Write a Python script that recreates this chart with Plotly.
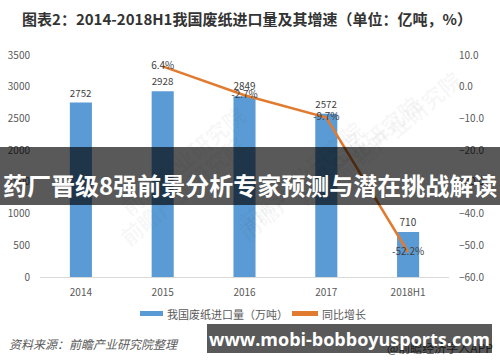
import plotly.graph_objects as go

# ---- data ----
categories = ["2014", "2015", "2016", "2017", "2018H1"]
imports_wt = [2752, 2928, 2849, 2572, 710]          # 万吨
growth_pct = [None, 6.4, -2.7, -9.7, -52.2]         # %
growth_labels = ["", "6.4%", "-2.7%", "-9.7%", "-52.2%"]
left_ticks = [0, 500, 1000, 1500, 2000, 2500, 3000, 3500]
right_ticks = [-60, -50, -40, -30, -20, -10, 0, 10]

title_text = "图表2：2014-2018H1我国废纸进口量及其增速（单位：亿吨，%）"
legend_bar = "我国废纸进口量（万吨）"
legend_line = "同比增长"
source_text = "资料来源：前瞻产业研究院整理"
credit_text = "@前瞻经济学人APP"
banner_text = "药厂晋级8强前景分析专家预测与潜在挑战解读"
url_text = "www.mobi-bobboyusports.com"

W, H = 500, 362
L, R, T, B = 40, 51, 55, 85
PW, PH = W - L - R, H - T - B
FONT = "Noto Sans CJK SC"


def px(x):
    return (x - L) / PW


def py(y):
    return (H - B - y) / PH


BLUE = "#5B9BD5"
ORANGE = "#E07B30"

fig = go.Figure()
fig.add_trace(go.Bar(
    x=categories, y=imports_wt, marker=dict(color=BLUE, line=dict(width=0)),
    text=[str(v) for v in imports_wt], textposition="outside",
    textfont=dict(size=10, color="#404040", family=FONT),
    cliponaxis=False, width=0.27, showlegend=False, hoverinfo="skip",
))
fig.add_trace(go.Scatter(
    x=categories, y=growth_pct, yaxis="y2", mode="lines+text",
    line=dict(color=ORANGE, width=2.5), text=growth_labels,
    textposition="middle center",
    textfont=dict(size=10, color="#404040", family=FONT),
    cliponaxis=False, showlegend=False, hoverinfo="skip",
))

# faint watermarks
watermarks = []
for (wx, wy) in [(110, 95), (300, 110), (110, 255), (300, 250), (430, 215), (470, 60)]:
    watermarks.append(dict(
        text="前瞻产业研究院", x=px(wx), y=py(wy), xref="paper", yref="paper",
        showarrow=False, textangle=-40,
        font=dict(size=22, color="rgba(0,0,0,0.045)", family=FONT, weight="bold"),
    ))

annotations = watermarks + [
    # banner text
    dict(text=banner_text, x=px(250), y=py(184), xref="paper", yref="paper",
         showarrow=False, xanchor="center", yanchor="middle",
         font=dict(size=24, color="white", family=FONT, weight="bold")),
    # legend texts
    dict(text=legend_bar, x=px(165), y=py(313.5), xref="paper", yref="paper",
         showarrow=False, xanchor="left", yanchor="middle",
         font=dict(size=11, color="#595959", family=FONT)),
    dict(text=legend_line, x=px(320), y=py(313.5), xref="paper", yref="paper",
         showarrow=False, xanchor="left", yanchor="middle",
         font=dict(size=11, color="#595959", family=FONT)),
    # source
    dict(text=source_text, x=px(7), y=py(343), xref="paper", yref="paper",
         showarrow=False, xanchor="left", yanchor="middle",
         font=dict(size=12, color="#595959", family=FONT, style="italic")),
    dict(text=credit_text, x=px(440), y=py(347), xref="paper", yref="paper",
         showarrow=False, xanchor="center", yanchor="middle",
         font=dict(size=12, color="#555555", family=FONT)),
    # url box
    dict(text="<b>" + url_text + "</b>", x=px(349.5), y=py(338.5),
         xref="paper", yref="paper", showarrow=False,
         xanchor="center", yanchor="middle", width=285, height=29,
         bgcolor="rgba(0,0,0,0.65)", borderpad=0, borderwidth=0,
         valign="middle",
         font=dict(size=18, color="white", family="Open Sans")),
]

shapes = [
    # overlay banner
    dict(type="rect", xref="paper", yref="paper", x0=px(-5), x1=px(505),
         y0=py(205), y1=py(147), fillcolor="rgba(0,0,0,0.65)",
         line=dict(width=0), layer="above"),
    # legend swatches
    dict(type="rect", xref="paper", yref="paper", x0=px(140), x1=px(163),
         y0=py(316), y1=py(311), fillcolor=BLUE, line=dict(width=0)),
    dict(type="rect", xref="paper", yref="paper", x0=px(292), x1=px(318),
         y0=py(316), y1=py(311), fillcolor=ORANGE, line=dict(width=0)),
]

fig.update_layout(
    width=W, height=H, margin=dict(l=L, r=R, t=T, b=B, autoexpand=False),
    paper_bgcolor="white", plot_bgcolor="white",
    font=dict(family=FONT, color="#595959"),
    title=dict(text="<b>" + title_text + "</b>", x=247 / W, xanchor="center",
               y=1 - 20 / H, yanchor="middle",
               font=dict(size=15, color="#333333", family=FONT)),
    xaxis=dict(type="category", showline=True, linecolor="#D9D9D9", linewidth=1,
               ticks="", showgrid=False, zeroline=False,
               tickfont=dict(size=10, color="#595959"), ticklabelstandoff=6),
    yaxis=dict(range=[0, 3500], tickvals=left_ticks, showgrid=False, zeroline=False,
               showline=False, ticks="", tickfont=dict(size=10, color="#595959"),
               ticklabelstandoff=9),
    yaxis2=dict(range=[-60, 10], tickvals=right_ticks, overlaying="y", side="right",
                showgrid=False, zeroline=False, showline=False, ticks="",
                tickformat=".1f", ticksuffix="%",
                tickfont=dict(size=10, color="#595959"), ticklabelstandoff=9),
    bargap=0.73,
    annotations=annotations, shapes=shapes,
)

fig.write_html("out.html")
